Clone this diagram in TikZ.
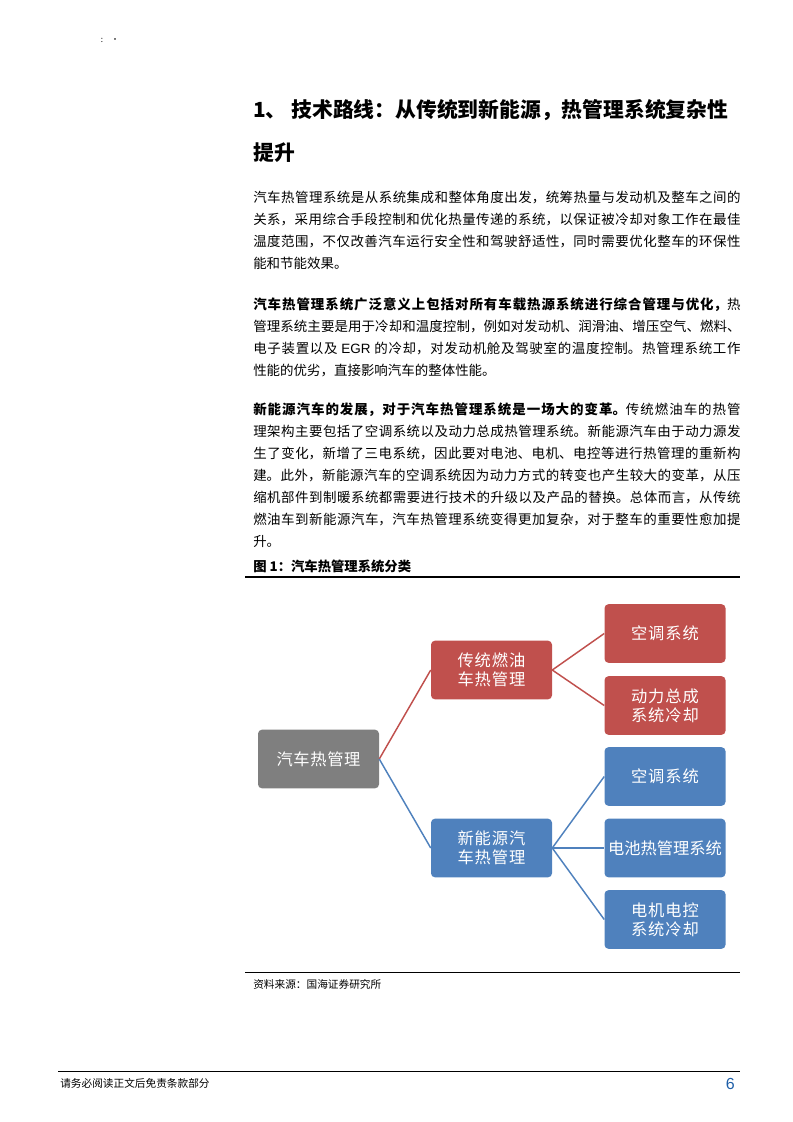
\documentclass[tikz,border=0pt]{standalone}
\usepackage{fontspec}
\setmainfont{Noto Sans CJK SC}
\newfontfamily\latinsans{Liberation Sans}
\XeTeXlinebreaklocale "zh"
\XeTeXlinebreakskip=0pt plus 1pt
\definecolor{cred}{HTML}{C0504D}
\definecolor{cblue}{HTML}{4F81BD}
\definecolor{cgray}{HTML}{7F7F7F}
\definecolor{pagenum}{HTML}{1F5FA8}
\begin{document}
\begin{tikzpicture}[x=0.75pt,y=-0.75pt,
  box/.style={rounded corners=3pt,minimum width=90.75pt,minimum height=44pt,text width=86pt,align=center,text=white,font=\fontsize{12.2}{14.5}\selectfont,inner sep=1pt},
  para/.style={anchor=north west,text width=365.5pt,align=justify,inner sep=0pt,font=\fontsize{10.1}{16.5}\selectfont},
  conn/.style={line width=1.1pt}]
\useasboundingbox (0,0) rectangle (793,1122);
\node[font=\fontsize{6}{6}\selectfont] (dots) at (110,40) {:\quad ·};
\node[anchor=west,inner sep=0pt,font=\fontsize{15.6}{16}\selectfont\bfseries] (h1) at (253,110) {1、 技术路线：从传统到新能源，热管理系统复杂性};
\node[anchor=west,inner sep=0pt,font=\fontsize{15.6}{16}\selectfont\bfseries] (h2) at (253,153) {提升};
\node[para] (p1) at (253,191) {汽车热管理系统是从系统集成和整体角度出发，统筹热量与发动机及整车之间的\linebreak 关系，采用综合手段控制和优化热量传递的系统，以保证被冷却对象工作在最佳\linebreak 温度范围，不仅改善汽车运行安全性和驾驶舒适性，同时需要优化整车的环保性\linebreak 能和节能效果。};
\node[para] (p2) at (253,298) {\textbf{汽车热管理系统广泛意义上包括对所有车载热源系统进行综合管理与优化，}热\linebreak 管理系统主要是用于冷却和温度控制，例如对发动机、润滑油、增压空气、燃料、\linebreak 电子装置以及 {\latinsans EGR} 的冷却，对发动机舱及驾驶室的温度控制。热管理系统工作\linebreak 性能的优劣，直接影响汽车的整体性能。};
\node[para] (p3) at (253,403) {\textbf{新能源汽车的发展，对于汽车热管理系统是一场大的变革。}传统燃油车的热管\linebreak 理架构主要包括了空调系统以及动力总成热管理系统。新能源汽车由于动力源发\linebreak 生了变化，新增了三电系统，因此要对电池、电机、电控等进行热管理的重新构\linebreak 建。此外，新能源汽车的空调系统因为动力方式的转变也产生较大的变革，从压\linebreak 缩机部件到制暖系统都需要进行技术的升级以及产品的替换。总体而言，从传统\linebreak 燃油车到新能源汽车，汽车热管理系统变得更加复杂，对于整车的重要性愈加提\linebreak 升。};
\node[anchor=west,inner sep=0pt,font=\fontsize{10}{12}\selectfont\bfseries] (cap) at (253,566) {图 1：汽车热管理系统分类};
\draw[line width=0.8pt] (245,577) coordinate (c1) -- (740,577) coordinate (c2);
% diagram
\node[box,fill=cgray] (root) at (318.5,759) {汽车热管理};
\node[box,fill=cred] (r1) at (491.5,670) {传统燃油车热管理};
\node[box,fill=cred] (r2) at (665,633.5) {空调系统};
\node[box,fill=cred] (r3) at (665,705.5) {动力总成系统冷却};
\node[box,fill=cblue] (b1) at (491.5,848) {新能源汽车热管理};
\node[box,fill=cblue] (b2) at (665,776.5) {空调系统};
\node[box,fill=cblue] (b3) at (665,848) {电池热管理系统};
\node[box,fill=cblue] (b4) at (665,919.5) {电机电控系统冷却};
\draw[conn,cred] (root.east) -- (r1.west);
\draw[conn,cblue] (root.east) -- (b1.west);
\draw[conn,cred] (r1.east) -- (r2.west);
\draw[conn,cred] (r1.east) -- (r3.west);
\draw[conn,cblue] (b1.east) -- (b2.west);
\draw[conn,cblue] (b1.east) -- (b3.west);
\draw[conn,cblue] (b1.east) -- (b4.west);
\draw[line width=0.6pt] (245,972) coordinate (s1) -- (740,972) coordinate (s2);
\node[anchor=west,inner sep=0pt,font=\fontsize{8}{10}\selectfont] (src) at (253,984) {资料来源：国海证券研究所};
\draw[line width=0.6pt] (58,1071) coordinate (f1) -- (740,1071) coordinate (f2);
\node[anchor=west,inner sep=0pt,font=\fontsize{8}{10}\selectfont] (foot) at (60,1083) {请务必阅读正文后免责条款部分};
\node[anchor=east,inner sep=0pt,text=pagenum,font=\latinsans\fontsize{12}{14}\selectfont] (pg) at (735,1084) {6};
\end{tikzpicture}
\end{document}
